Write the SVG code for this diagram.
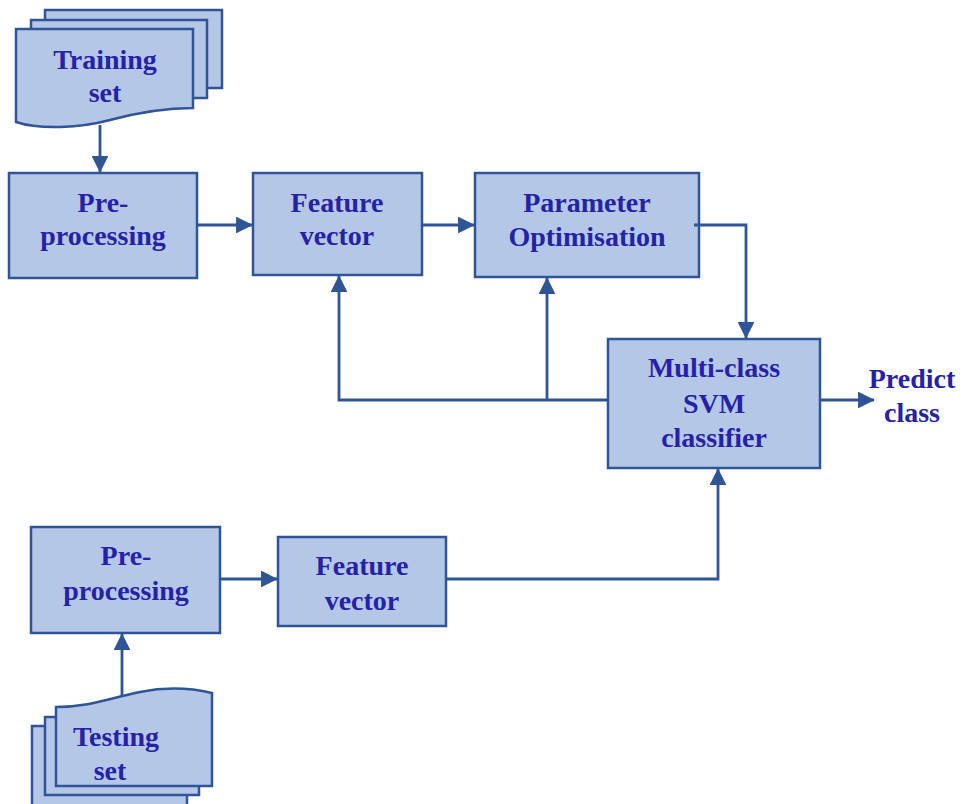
<svg xmlns="http://www.w3.org/2000/svg" width="962" height="804" viewBox="0 0 962 804">
  <style>
    .box { fill: #B4C7E7; stroke: #2F5597; stroke-width: 2.5; }
    .wire { fill: none; stroke: #2F5597; stroke-width: 2.8; }
    .lbl { font-family: "Liberation Serif", "Times New Roman", serif; font-weight: bold; font-size: 28px; fill: #2522A8; text-anchor: middle; }
  </style>
  <defs>
    <marker id="arrow" viewBox="0 0 10 10" refX="9.5" refY="5" markerWidth="6" markerHeight="6" markerUnits="strokeWidth" orient="auto">
      <path d="M0,0 L10,5 L0,10 Z" fill="#2F5597"/>
    </marker>
  </defs>
  <rect width="962" height="804" fill="#ffffff"/>

  <!-- Training set: stacked documents -->
  <g id="training-set">
    <rect class="box" x="45" y="10" width="177" height="78"/>
    <rect class="box" x="31" y="20" width="176" height="78"/>
    <path class="box" d="M16,29 H193 V108 C170,108 140,112 110,120 C80,128 40,130 16,122 Z"/>
    <text class="lbl" x="105" y="69">Training</text>
    <text class="lbl" x="105" y="102">set</text>
  </g>

  <g id="preproc-train">
    <rect class="box" x="9" y="173" width="188" height="105"/>
    <text class="lbl" x="103" y="212">Pre-</text>
    <text class="lbl" x="103" y="245">processing</text>
  </g>

  <g id="feature-train">
    <rect class="box" x="253" y="173" width="169" height="102"/>
    <text class="lbl" x="337" y="212">Feature</text>
    <text class="lbl" x="337" y="245">vector</text>
  </g>

  <g id="param-opt">
    <rect class="box" x="475" y="173" width="224" height="104"/>
    <text class="lbl" x="587" y="212">Parameter</text>
    <text class="lbl" x="587" y="246">Optimisation</text>
  </g>

  <g id="svm">
    <rect class="box" x="608" y="339" width="212" height="129"/>
    <text class="lbl" x="714" y="377">Multi-class</text>
    <text class="lbl" x="714" y="413">SVM</text>
    <text class="lbl" x="714" y="447">classifier</text>
  </g>

  <g id="predict">
    <text class="lbl" x="912" y="388">Predict</text>
    <text class="lbl" x="912" y="422">class</text>
  </g>

  <g id="preproc-test">
    <rect class="box" x="31" y="527" width="189" height="106"/>
    <text class="lbl" x="126" y="565">Pre-</text>
    <text class="lbl" x="126" y="600">processing</text>
  </g>

  <g id="feature-test">
    <rect class="box" x="278" y="537" width="168" height="89"/>
    <text class="lbl" x="362" y="575">Feature</text>
    <text class="lbl" x="362" y="610">vector</text>
  </g>

  <!-- Testing set: stacked documents -->
  <g id="testing-set">
    <rect class="box" x="32" y="726" width="155" height="90"/>
    <rect class="box" x="45" y="717" width="154" height="78"/>
    <path class="box" d="M56,707 C90,707 110,698 140,692 C170,686 195,689 212,693 V786 H56 Z"/>
    <text class="lbl" x="116" y="746">Testing</text>
    <text class="lbl" x="110" y="780">set</text>
  </g>

  <g id="connectors">
    <path class="wire" d="M100,125 V172" marker-end="url(#arrow)"/>
    <path class="wire" d="M197,225 H252" marker-end="url(#arrow)"/>
    <path class="wire" d="M422,225 H474" marker-end="url(#arrow)"/>
    <path class="wire" d="M694,225 H746 V338" marker-end="url(#arrow)"/>
    <path class="wire" d="M820,400 H874" marker-end="url(#arrow)"/>
    <path class="wire" d="M608,400 H339 V276" marker-end="url(#arrow)"/>
    <path class="wire" d="M547,400 V278" marker-end="url(#arrow)"/>
    <path class="wire" d="M220,579 H277" marker-end="url(#arrow)"/>
    <path class="wire" d="M446,579 H718 V469" marker-end="url(#arrow)"/>
    <path class="wire" d="M122,697 V634" marker-end="url(#arrow)"/>
  </g>
</svg>
